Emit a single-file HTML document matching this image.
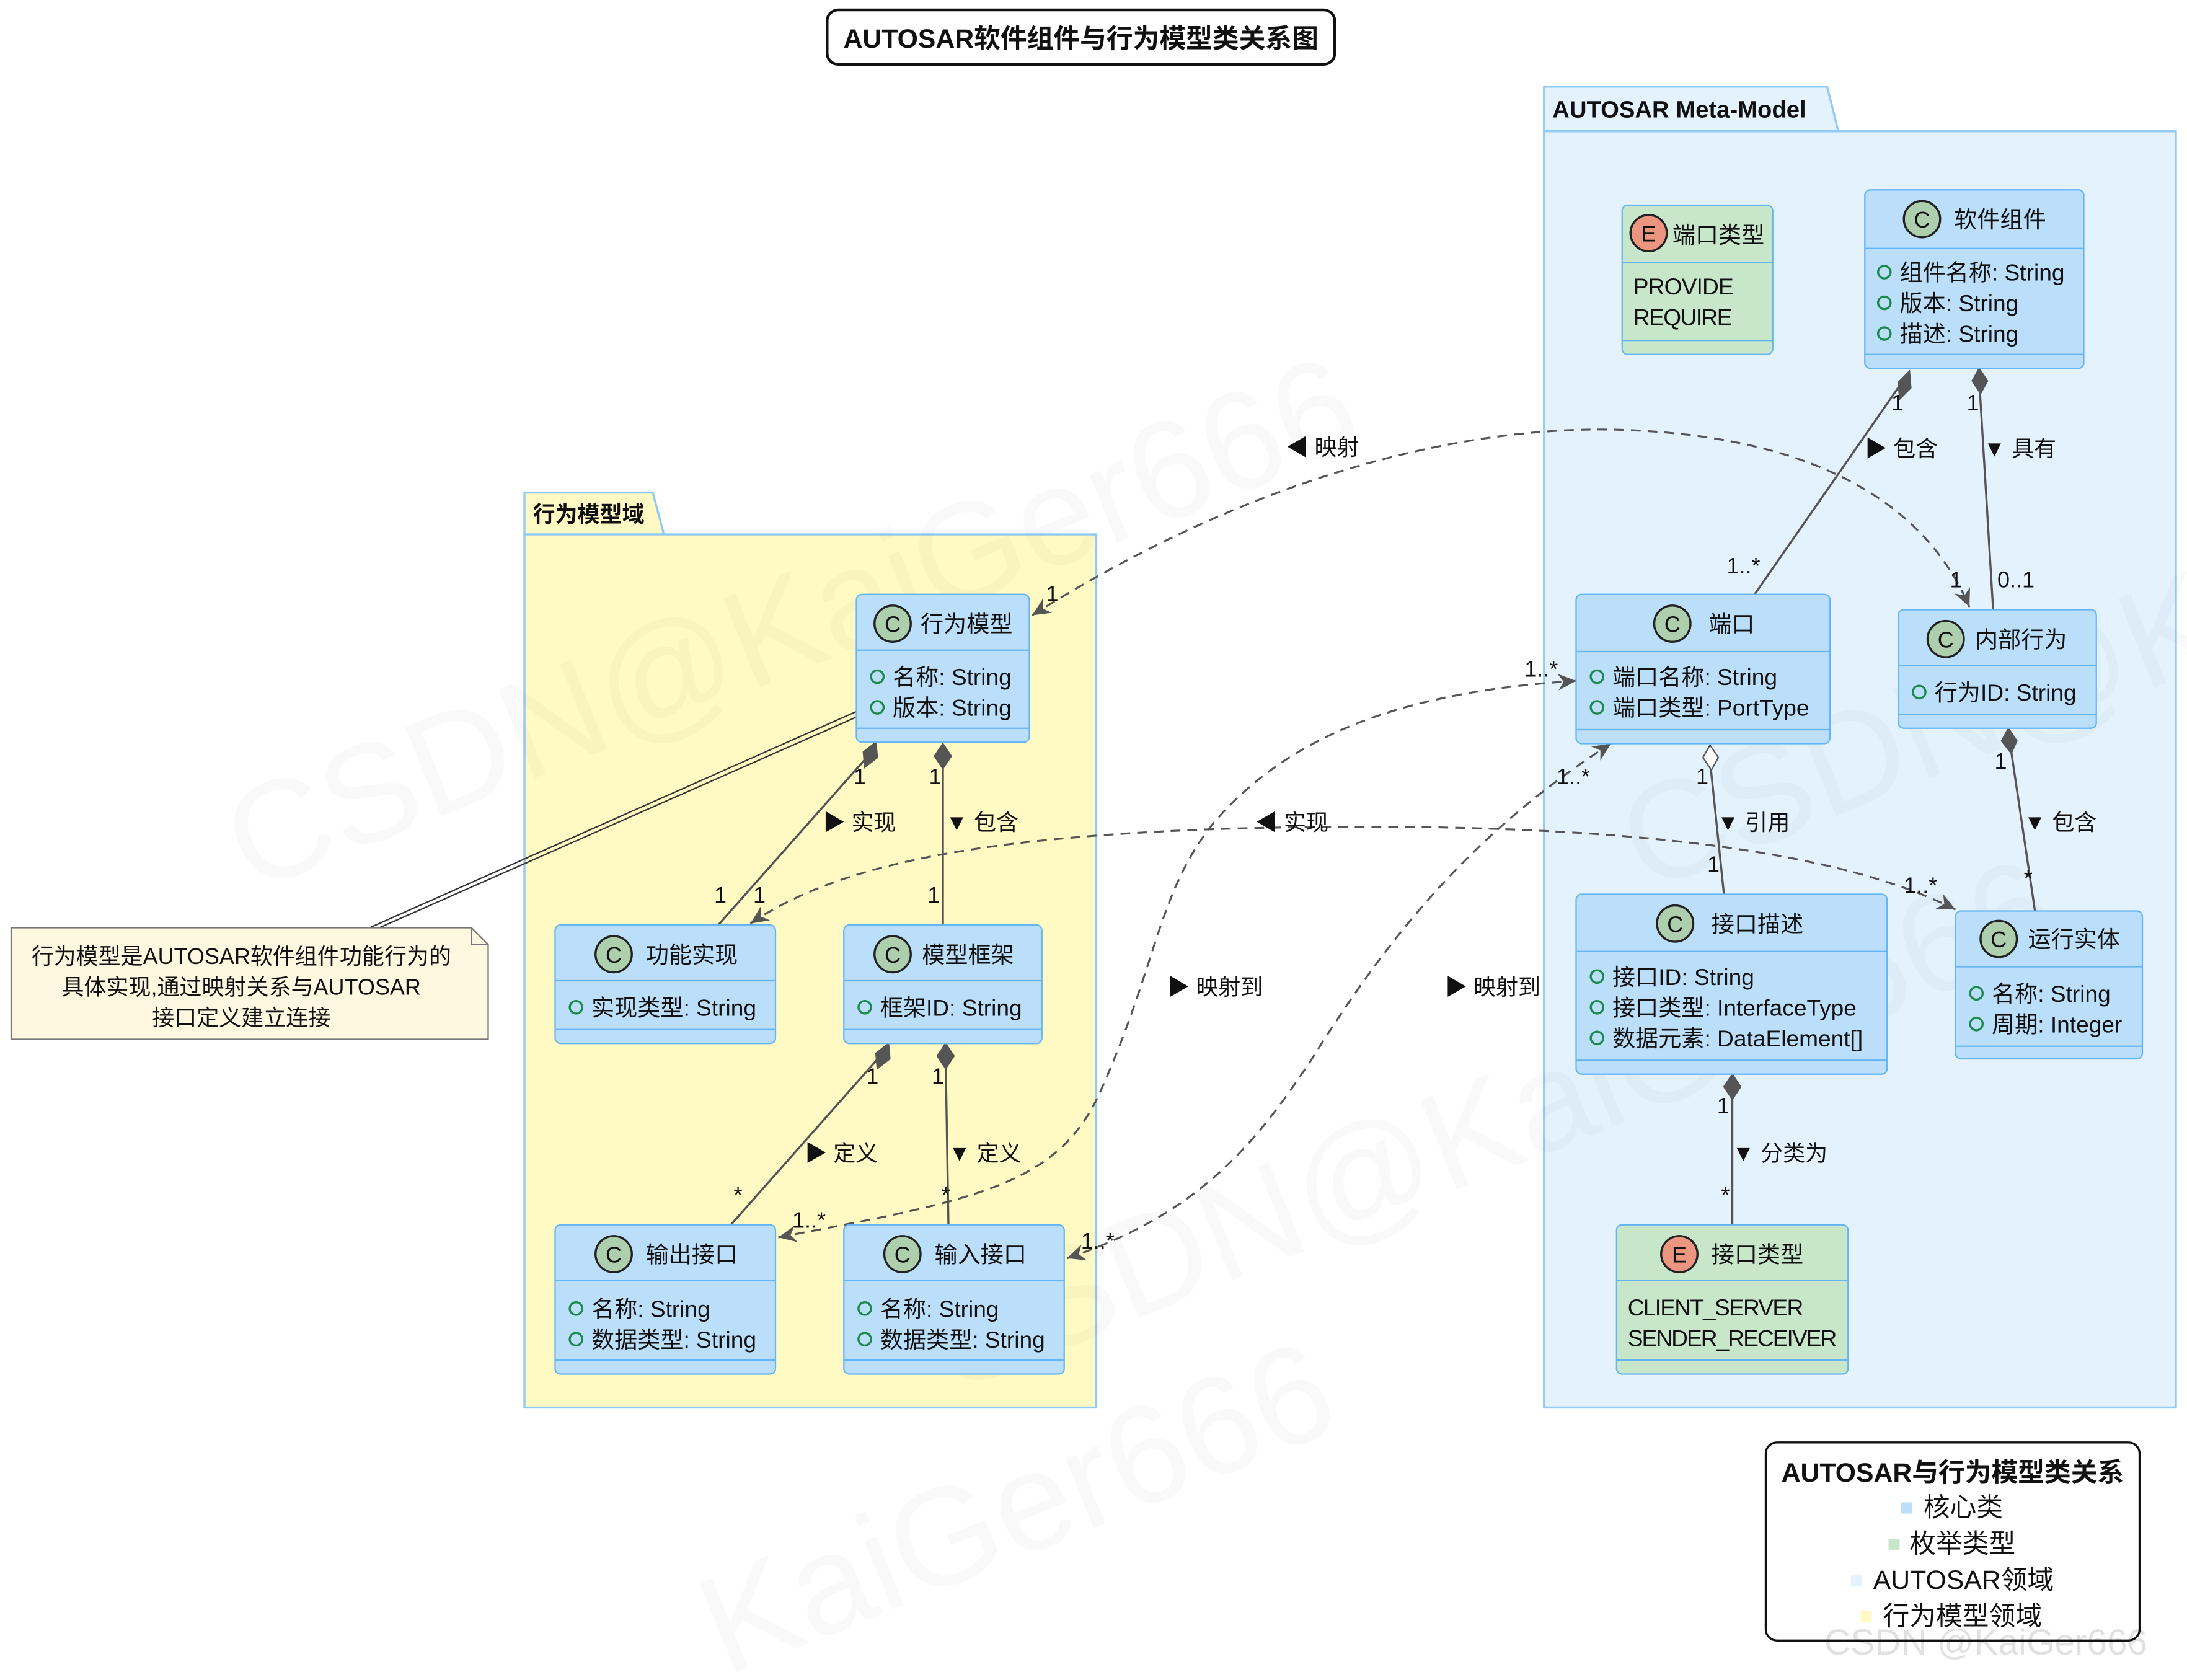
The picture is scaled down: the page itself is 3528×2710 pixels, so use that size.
<!DOCTYPE html>
<html><head><meta charset="utf-8"><style>
html,body{margin:0;padding:0;background:#fff}
svg text{font-family:"Liberation Sans","Noto Sans CJK SC",sans-serif;fill:#111}
</style></head><body>
<svg width="3528" height="2705" viewBox="0 0 1568 1202" xmlns="http://www.w3.org/2000/svg">
<rect width="1568" height="1202" fill="#fff"/>
<!-- title -->
<rect x="593" y="7" width="364" height="39" rx="8" fill="#fff" stroke="#111" stroke-width="2"/>
<text x="775" y="34" font-size="19" font-weight="bold" text-anchor="middle">AUTOSAR软件组件与行为模型类关系图</text>

<!-- packages -->
<path d="M1107,94 L1107,62 L1310,62 L1318,94 Z" fill="#e3f2fd" stroke="#90caf9" stroke-width="1.5"/>
<rect x="1107" y="94" width="453" height="915" fill="#e3f2fd" stroke="#90caf9" stroke-width="1.5"/>
<text x="1113" y="84" font-size="17" font-weight="bold">AUTOSAR Meta-Model</text>
<path d="M376,383 L376,353 L468,353 L476,383 Z" fill="#fff9c4" stroke="#90caf9" stroke-width="1.5"/>
<rect x="376" y="383" width="410" height="626" fill="#fff9c4" stroke="#90caf9" stroke-width="1.5"/>
<text x="382" y="374" font-size="16" font-weight="bold">行为模型域</text>

<!-- watermark -->
<g fill="#000" opacity="0.018" font-size="100">
<text x="180" y="640" transform="rotate(-22 180 640)">CSDN@KaiGer666</text>
<text x="680" y="1000" transform="rotate(-22 680 1000)">CSDN@KaiGer666</text>
<text x="1180" y="640" transform="rotate(-22 1180 640)">CSDN@K</text>
<text x="520" y="1202" transform="rotate(-22 520 1202)">KaiGer666</text>
</g>

<!-- connectors -->
<g stroke="#555" stroke-width="1.5" fill="none">
<line x1="1365" y1="272" x2="1258" y2="426"/>
<line x1="1419" y1="272" x2="1429" y2="437"/>
<line x1="1226" y1="545" x2="1236" y2="641"/>
<line x1="1441" y1="532" x2="1459" y2="653"/>
<line x1="1242" y1="780" x2="1242" y2="878"/>
<line x1="624" y1="540" x2="515" y2="663"/>
<line x1="676" y1="542" x2="676" y2="663"/>
<line x1="632" y1="756" x2="524" y2="878"/>
<line x1="678" y1="758" x2="680" y2="878"/>
</g>
<g fill="#555" stroke="#555">
<path d="M1369,266 L1370,278 L1362,286 L1361,274 Z"/>
<path d="M1419,264 L1425,273 L1420,282 L1414,273 Z"/>
<path d="M1226,534 L1232,543 L1227,552 L1221,543 Z" fill="#fff"/>
<path d="M1440,522 L1446,531 L1442,540 L1435,531 Z"/>
<path d="M1242,770 L1248,779 L1242,788 L1236,779 Z"/>
<path d="M628,532 L629,543 L620,550 L619,539 Z"/>
<path d="M676,533 L682,542 L676,551 L670,542 Z"/>
<path d="M637,748 L638,759 L629,766 L628,755 Z"/>
<path d="M678,748 L684,757 L678,766 L672,757 Z"/>
</g>
<!-- note lines -->
<g stroke="#333" stroke-width="1" fill="none">
<line x1="614" y1="510" x2="265" y2="665"/>
<line x1="614" y1="514" x2="272" y2="665"/>
</g>
<!-- dashed -->
<g stroke="#555" stroke-width="1.4" fill="none" stroke-dasharray="7,5">
<path d="M740,441 C900,340 1050,305 1160,308 C1300,312 1380,360 1412,435"/>
<path d="M558,887 C700,860 760,850 790,780 C830,690 830,640 870,590 C930,520 1020,495 1130,488"/>
<path d="M765,902 C860,870 900,820 940,760 C990,680 1050,600 1155,533"/>
<path d="M538,662 C600,620 700,600 880,594 C1100,588 1300,600 1402,652"/>
</g>
<g fill="#555">
<path d="M0,0 L-13,-6 L-9,0 L-13,6 Z" transform="translate(740,441) rotate(148)"/>
<path d="M0,0 L-13,-6 L-9,0 L-13,6 Z" transform="translate(1412,435) rotate(67)"/>
<path d="M0,0 L-13,-6 L-9,0 L-13,6 Z" transform="translate(558,887) rotate(169)"/>
<path d="M0,0 L-13,-6 L-9,0 L-13,6 Z" transform="translate(1130,488) rotate(-4)"/>
<path d="M0,0 L-13,-6 L-9,0 L-13,6 Z" transform="translate(765,902) rotate(161)"/>
<path d="M0,0 L-13,-6 L-9,0 L-13,6 Z" transform="translate(1155,533) rotate(-33)"/>
<path d="M0,0 L-13,-6 L-9,0 L-13,6 Z" transform="translate(538,662) rotate(146)"/>
<path d="M0,0 L-13,-6 L-9,0 L-13,6 Z" transform="translate(1402,652) rotate(27)"/>
</g>
<g font-size="16">
<text x="922" y="326">◀ 映射</text>
<text x="1337" y="327">▶ 包含</text>
<text x="1422" y="327">▼ 具有</text>
<text x="1356" y="294">1</text><text x="1410" y="294">1</text>
<text x="1238" y="411">1..*</text><text x="1432" y="421">0..1</text><text x="1398" y="421">1</text>
<text x="750" y="431">1</text>
<text x="1093" y="485">1..*</text>
<text x="1116" y="562">1..*</text>
<text x="1216" y="562">1</text><text x="1430" y="551">1</text>
<text x="1231" y="595">▼ 引用</text><text x="1451" y="595">▼ 包含</text>
<text x="900" y="595">◀ 实现</text>
<text x="590" y="595">▶ 实现</text><text x="678" y="595">▼ 包含</text>
<text x="612" y="562">1</text><text x="666" y="562">1</text>
<text x="512" y="647">1</text><text x="540" y="647">1</text><text x="665" y="647">1</text>
<text x="1224" y="625">1</text><text x="1365" y="640">1..*</text><text x="1451" y="635">*</text>
<text x="837" y="713">▶ 映射到</text><text x="1036" y="713">▶ 映射到</text>
<text x="621" y="777">1</text><text x="668" y="777">1</text><text x="1231" y="798">1</text>
<text x="577" y="832">▶ 定义</text><text x="680" y="832">▼ 定义</text><text x="1242" y="832">▼ 分类为</text>
<text x="526" y="862">*</text><text x="675" y="862">*</text><text x="1234" y="862">*</text>
<text x="568" y="880">1..*</text><text x="775" y="895">1..*</text>
</g>

<!-- class boxes -->
<g font-size="16.5">
<rect x="1337" y="136" width="157" height="128" rx="4" fill="#bbdefb" stroke="#64b5f6"/>
<line x1="1337" y1="178" x2="1494" y2="178" stroke="#64b5f6"/><line x1="1337" y1="254" x2="1494" y2="254" stroke="#64b5f6"/>
<circle cx="1378" cy="157" r="13" fill="#adcfad" stroke="#222" stroke-width="1.5"/><text x="1378" y="163" font-size="16" text-anchor="middle" font-family="Liberation Serif">C</text>
<text x="1401" y="163">软件组件</text>
<g fill="none" stroke="#1b8a4a" stroke-width="1.5"><circle cx="1351" cy="195" r="4.5"/><circle cx="1351" cy="217" r="4.5"/><circle cx="1351" cy="239" r="4.5"/></g>
<text x="1362" y="201">组件名称: String</text><text x="1362" y="223">版本: String</text><text x="1362" y="245">描述: String</text>

<rect x="1163" y="147" width="108" height="107" rx="4" fill="#c8e6c9" stroke="#64b5f6"/>
<line x1="1163" y1="188" x2="1271" y2="188" stroke="#64b5f6"/><line x1="1163" y1="244" x2="1271" y2="244" stroke="#64b5f6"/>
<circle cx="1182" cy="167" r="13" fill="#ec9580" stroke="#222" stroke-width="1.5"/><text x="1182" y="173" font-size="16" text-anchor="middle" font-family="Liberation Serif">E</text>
<text x="1199" y="174">端口类型</text>
<text x="1171" y="211" textLength="72">PROVIDE</text><text x="1171" y="233" textLength="71">REQUIRE</text>

<rect x="1130" y="426" width="182" height="107" rx="4" fill="#bbdefb" stroke="#64b5f6"/>
<line x1="1130" y1="467" x2="1312" y2="467" stroke="#64b5f6"/><line x1="1130" y1="523" x2="1312" y2="523" stroke="#64b5f6"/>
<circle cx="1199" cy="447" r="13" fill="#adcfad" stroke="#222" stroke-width="1.5"/><text x="1199" y="453" font-size="16" text-anchor="middle" font-family="Liberation Serif">C</text>
<text x="1225" y="453">端口</text>
<g fill="none" stroke="#1b8a4a" stroke-width="1.5"><circle cx="1145" cy="485" r="4.5"/><circle cx="1145" cy="507" r="4.5"/></g>
<text x="1156" y="491">端口名称: String</text><text x="1156" y="513">端口类型: PortType</text>

<rect x="1361" y="437" width="142" height="85" rx="4" fill="#bbdefb" stroke="#64b5f6"/>
<line x1="1361" y1="477" x2="1503" y2="477" stroke="#64b5f6"/><line x1="1361" y1="512" x2="1503" y2="512" stroke="#64b5f6"/>
<circle cx="1395" cy="458" r="13" fill="#adcfad" stroke="#222" stroke-width="1.5"/><text x="1395" y="464" font-size="16" text-anchor="middle" font-family="Liberation Serif">C</text>
<text x="1416" y="464">内部行为</text>
<circle cx="1376" cy="496" r="4.5" fill="none" stroke="#1b8a4a" stroke-width="1.5"/>
<text x="1387" y="502">行为ID: String</text>

<rect x="1130" y="641" width="223" height="129" rx="4" fill="#bbdefb" stroke="#64b5f6"/>
<line x1="1130" y1="682" x2="1353" y2="682" stroke="#64b5f6"/><line x1="1130" y1="760" x2="1353" y2="760" stroke="#64b5f6"/>
<circle cx="1201" cy="662" r="13" fill="#adcfad" stroke="#222" stroke-width="1.5"/><text x="1201" y="668" font-size="16" text-anchor="middle" font-family="Liberation Serif">C</text>
<text x="1227" y="668">接口描述</text>
<g fill="none" stroke="#1b8a4a" stroke-width="1.5"><circle cx="1145" cy="700" r="4.5"/><circle cx="1145" cy="722" r="4.5"/><circle cx="1145" cy="744" r="4.5"/></g>
<text x="1156" y="706">接口ID: String</text><text x="1156" y="728">接口类型: InterfaceType</text><text x="1156" y="750">数据元素: DataElement[]</text>

<rect x="1402" y="653" width="134" height="106" rx="4" fill="#bbdefb" stroke="#64b5f6"/>
<line x1="1402" y1="693" x2="1536" y2="693" stroke="#64b5f6"/><line x1="1402" y1="750" x2="1536" y2="750" stroke="#64b5f6"/>
<circle cx="1433" cy="673" r="13" fill="#adcfad" stroke="#222" stroke-width="1.5"/><text x="1433" y="679" font-size="16" text-anchor="middle" font-family="Liberation Serif">C</text>
<text x="1454" y="679">运行实体</text>
<g fill="none" stroke="#1b8a4a" stroke-width="1.5"><circle cx="1417" cy="712" r="4.5"/><circle cx="1417" cy="734" r="4.5"/></g>
<text x="1428" y="718">名称: String</text><text x="1428" y="740">周期: Integer</text>

<rect x="1159" y="878" width="166" height="107" rx="4" fill="#c8e6c9" stroke="#64b5f6"/>
<line x1="1159" y1="918" x2="1325" y2="918" stroke="#64b5f6"/><line x1="1159" y1="975" x2="1325" y2="975" stroke="#64b5f6"/>
<circle cx="1204" cy="899" r="13" fill="#ec9580" stroke="#222" stroke-width="1.5"/><text x="1204" y="905" font-size="16" text-anchor="middle" font-family="Liberation Serif">E</text>
<text x="1227" y="905">接口类型</text>
<text x="1167" y="943" textLength="126">CLIENT_SERVER</text><text x="1167" y="965" textLength="150">SENDER_RECEIVER</text>

<rect x="614" y="426" width="124" height="106" rx="4" fill="#bbdefb" stroke="#64b5f6"/>
<line x1="614" y1="466" x2="738" y2="466" stroke="#64b5f6"/><line x1="614" y1="522" x2="738" y2="522" stroke="#64b5f6"/>
<circle cx="640" cy="447" r="13" fill="#adcfad" stroke="#222" stroke-width="1.5"/><text x="640" y="453" font-size="16" text-anchor="middle" font-family="Liberation Serif">C</text>
<text x="660" y="453">行为模型</text>
<g fill="none" stroke="#1b8a4a" stroke-width="1.5"><circle cx="629" cy="485" r="4.5"/><circle cx="629" cy="507" r="4.5"/></g>
<text x="640" y="491">名称: String</text><text x="640" y="513">版本: String</text>

<rect x="398" y="663" width="158" height="85" rx="4" fill="#bbdefb" stroke="#64b5f6"/>
<line x1="398" y1="703" x2="556" y2="703" stroke="#64b5f6"/><line x1="398" y1="738" x2="556" y2="738" stroke="#64b5f6"/>
<circle cx="440" cy="684" r="13" fill="#adcfad" stroke="#222" stroke-width="1.5"/><text x="440" y="690" font-size="16" text-anchor="middle" font-family="Liberation Serif">C</text>
<text x="463" y="690">功能实现</text>
<circle cx="413" cy="722" r="4.5" fill="none" stroke="#1b8a4a" stroke-width="1.5"/>
<text x="424" y="728">实现类型: String</text>

<rect x="605" y="663" width="142" height="85" rx="4" fill="#bbdefb" stroke="#64b5f6"/>
<line x1="605" y1="703" x2="747" y2="703" stroke="#64b5f6"/><line x1="605" y1="738" x2="747" y2="738" stroke="#64b5f6"/>
<circle cx="640" cy="684" r="13" fill="#adcfad" stroke="#222" stroke-width="1.5"/><text x="640" y="690" font-size="16" text-anchor="middle" font-family="Liberation Serif">C</text>
<text x="661" y="690">模型框架</text>
<circle cx="620" cy="722" r="4.5" fill="none" stroke="#1b8a4a" stroke-width="1.5"/>
<text x="631" y="728">框架ID: String</text>

<rect x="398" y="878" width="158" height="107" rx="4" fill="#bbdefb" stroke="#64b5f6"/>
<line x1="398" y1="918" x2="556" y2="918" stroke="#64b5f6"/><line x1="398" y1="975" x2="556" y2="975" stroke="#64b5f6"/>
<circle cx="440" cy="899" r="13" fill="#adcfad" stroke="#222" stroke-width="1.5"/><text x="440" y="905" font-size="16" text-anchor="middle" font-family="Liberation Serif">C</text>
<text x="463" y="905">输出接口</text>
<g fill="none" stroke="#1b8a4a" stroke-width="1.5"><circle cx="413" cy="938" r="4.5"/><circle cx="413" cy="960" r="4.5"/></g>
<text x="424" y="944">名称: String</text><text x="424" y="966">数据类型: String</text>

<rect x="605" y="878" width="158" height="107" rx="4" fill="#bbdefb" stroke="#64b5f6"/>
<line x1="605" y1="918" x2="763" y2="918" stroke="#64b5f6"/><line x1="605" y1="975" x2="763" y2="975" stroke="#64b5f6"/>
<circle cx="647" cy="899" r="13" fill="#adcfad" stroke="#222" stroke-width="1.5"/><text x="647" y="905" font-size="16" text-anchor="middle" font-family="Liberation Serif">C</text>
<text x="670" y="905">输入接口</text>
<g fill="none" stroke="#1b8a4a" stroke-width="1.5"><circle cx="620" cy="938" r="4.5"/><circle cx="620" cy="960" r="4.5"/></g>
<text x="631" y="944">名称: String</text><text x="631" y="966">数据类型: String</text>
</g>

<!-- note -->
<path d="M8,665 L338,665 L350,677 L350,745 L8,745 Z" fill="#fef8e0" stroke="#777"/>
<path d="M338,665 L338,677 L350,677" fill="none" stroke="#777"/>
<g font-size="16" text-anchor="middle">
<text x="173" y="691">行为模型是AUTOSAR软件组件功能行为的</text>
<text x="173" y="713">具体实现,通过映射关系与AUTOSAR</text>
<text x="173" y="735">接口定义建立连接</text>
</g>

<!-- legend -->
<rect x="1266" y="1034" width="268" height="142" rx="8" fill="#fff" stroke="#111" stroke-width="1.5"/>
<text x="1400" y="1062" font-size="19" font-weight="bold" text-anchor="middle">AUTOSAR与行为模型类关系</text>
<rect x="1363" y="1077" width="8" height="8" fill="#bbdefb"/><text x="1379" y="1087" font-size="19">核心类</text>
<rect x="1354" y="1103" width="8" height="8" fill="#c8e6c9"/><text x="1369" y="1113" font-size="19">枚举类型</text>
<rect x="1327" y="1129" width="8" height="8" fill="#e3f2fd"/><text x="1343" y="1139" font-size="19">AUTOSAR领域</text>
<rect x="1334" y="1155" width="8" height="8" fill="#fff9c4"/><text x="1350" y="1165" font-size="19">行为模型领域</text>
<text x="1308" y="1186" font-size="26" fill="#000" opacity="0.12">CSDN @KaiGer666</text>
</svg>
</body></html>
